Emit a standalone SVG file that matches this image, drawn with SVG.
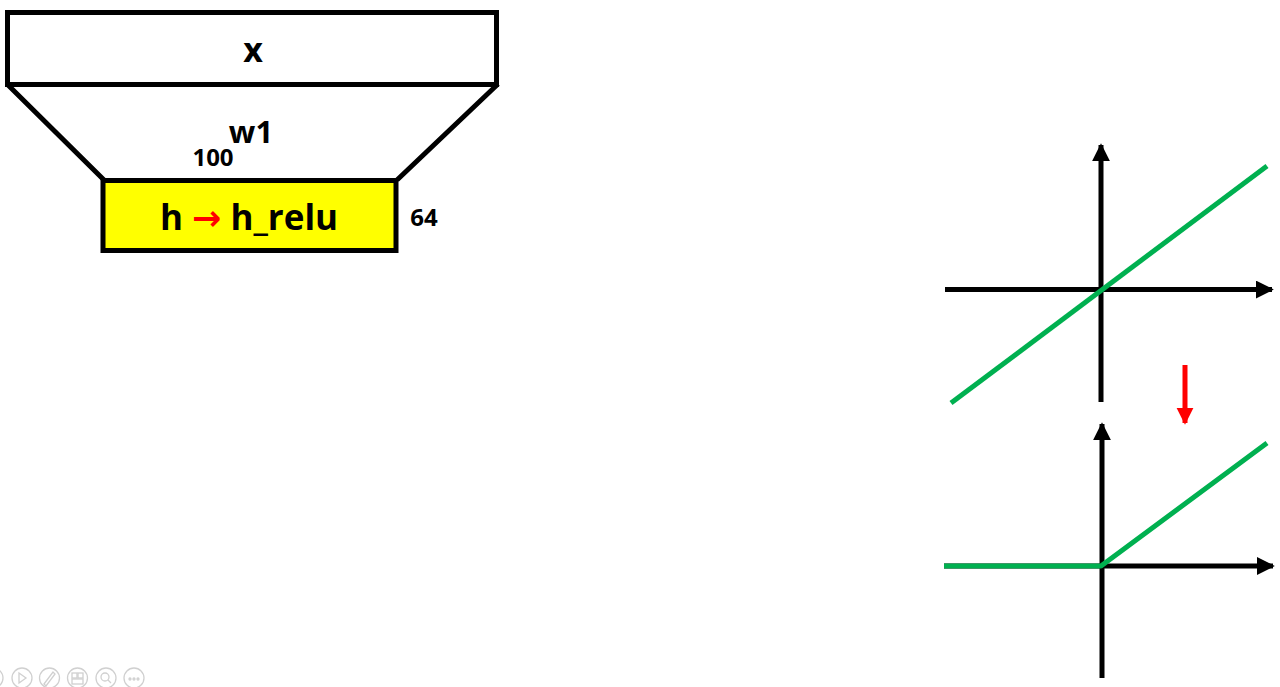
<svg xmlns="http://www.w3.org/2000/svg" width="1280" height="687" viewBox="0 0 1280 687">
  <style>
    .box { stroke: #000; stroke-width: 5; }
    .lbl { font-family: "Open Sans", "Noto Sans", "Liberation Sans", sans-serif; font-weight: bold; fill: #000; }
    .axis { stroke: #000; stroke-width: 5; fill: none; }
    .curve { stroke: #00B050; stroke-width: 5; fill: none; stroke-linejoin: round; }
    .icon { stroke: #d0d0d0; stroke-width: 1.3; fill: none; }
  </style>
  <defs>
    <marker id="ah" viewBox="0 0 10 10" refX="9" refY="5" markerWidth="3.6" markerHeight="3.6" orient="auto" markerUnits="strokeWidth">
      <path d="M0,0 L10,5 L0,10 Z" fill="#000"/>
    </marker>
    <marker id="ahr" viewBox="0 0 10 10" refX="9" refY="5" markerWidth="3.4" markerHeight="3.6" orient="auto" markerUnits="strokeWidth">
      <path d="M0,0 L10,5 L0,10 Z" fill="#FF0000"/>
    </marker>
  </defs>

  <g id="layer-x">
    <rect class="box" x="7.5" y="12.5" width="489" height="72" fill="#fff"/>
    <text class="lbl" x="253" y="62" font-size="34" text-anchor="middle">x</text>
  </g>

  <g id="weights-w1">
    <path class="box" d="M7,84 L104,180 M498,84 L397,180" fill="none"/>
    <text class="lbl" x="251" y="143" font-size="31" text-anchor="middle">w1</text>
    <text class="lbl" x="213" y="166" font-size="24" text-anchor="middle">100</text>
  </g>

  <g id="layer-h">
    <rect class="box" x="103" y="180.5" width="293" height="70" fill="#FFFF00"/>
    <text class="lbl" x="249" y="230" font-size="35" text-anchor="middle">h <tspan fill="#FF0000" font-family="DejaVu Sans, sans-serif">→</tspan> h_relu</text>
    <text class="lbl" x="424" y="226" font-size="24" text-anchor="middle">64</text>
  </g>

  <g id="graph-linear">
    <line class="axis" x1="1101" y1="402" x2="1101" y2="145" marker-end="url(#ah)"/>
    <line class="axis" x1="945" y1="289.5" x2="1272" y2="289.5" marker-end="url(#ah)"/>
    <line class="curve" x1="951" y1="403" x2="1267" y2="166"/>
  </g>

  <g id="graph-relu">
    <line class="axis" x1="1102" y1="678" x2="1102" y2="424" marker-end="url(#ah)"/>
    <line class="axis" x1="944" y1="566" x2="1273" y2="566" marker-end="url(#ah)"/>
    <polyline class="curve" points="944,566 1101,566 1267,443"/>
  </g>

  <g id="connectors">
    <line x1="1185" y1="365" x2="1185" y2="423" stroke="#FF0000" stroke-width="5" marker-end="url(#ahr)"/>
  </g>

  <g id="toolbar">
    <circle class="icon" cx="-7" cy="678" r="10"/>
    <circle class="icon" cx="22" cy="678" r="10"/>
    <path class="icon" d="M19,673 L26,678 L19,683 Z"/>
    <circle class="icon" cx="49.5" cy="678" r="10"/>
    <path class="icon" d="M44,684 L53,672 L55,674 L46,686 Z"/>
    <circle class="icon" cx="77.5" cy="678" r="10"/>
    <rect class="icon" x="72" y="673" width="5" height="5"/>
    <rect class="icon" x="78" y="673" width="5" height="5"/>
    <rect class="icon" x="72" y="679" width="11" height="5"/>
    <circle class="icon" cx="106" cy="678" r="10"/>
    <circle class="icon" cx="105" cy="677" r="4"/>
    <line class="icon" x1="108" y1="680" x2="111" y2="683"/>
    <circle class="icon" cx="134" cy="678" r="10"/>
    <circle class="icon" cx="130" cy="679" r="1"/>
    <circle class="icon" cx="134" cy="679" r="1"/>
    <circle class="icon" cx="138" cy="679" r="1"/>
  </g>
</svg>
